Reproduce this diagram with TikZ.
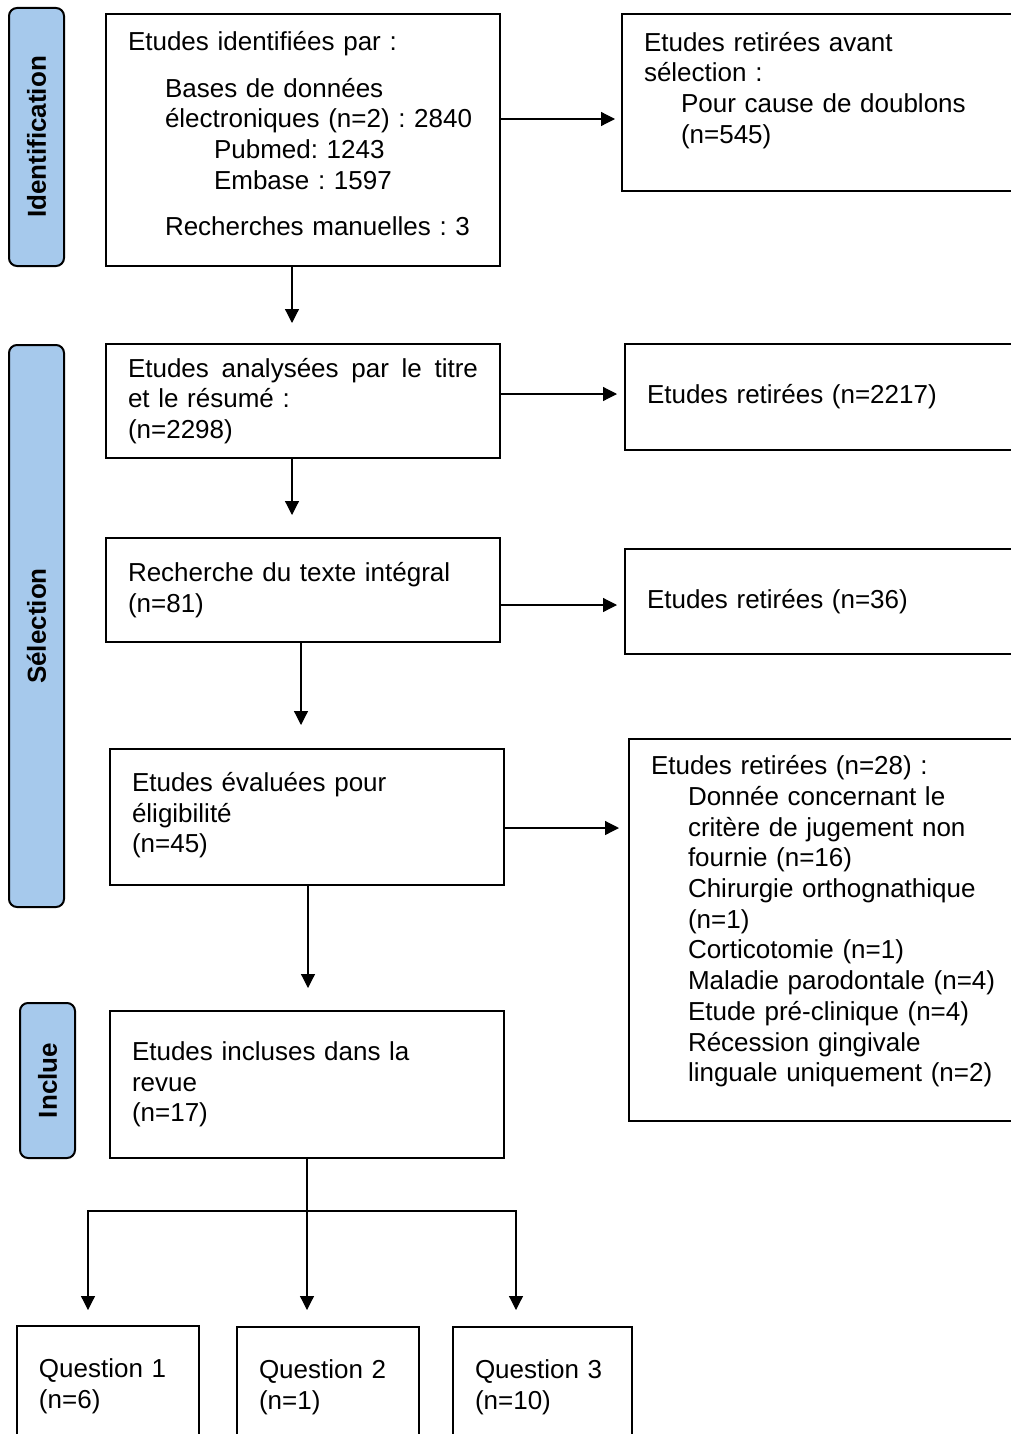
\documentclass[tikz,border=0pt]{standalone}
\usepackage{fontspec}
\setmainfont{Liberation Sans}
\usepackage{xcolor}
\usetikzlibrary{arrows.meta}
\definecolor{bleuphase}{RGB}{166,201,236}
\frenchspacing

\begin{document}
\begin{tikzpicture}[x=0.5pt, y=-0.5pt, font=\fontsize{13}{15.35}\selectfont]
    \tikzstyle{etape} = [rectangle, draw, line width=1pt, anchor=north west, align=left, inner xsep=11pt, inner ysep=2pt]
    \tikzstyle{phase} = [rectangle, rounded corners=4pt, draw, line width=1pt, fill=bleuphase, rotate=90, inner sep=0pt, minimum height=27.5pt, font=\fontsize{13}{15}\selectfont\bfseries]
    \tikzstyle{fleche} = [-{Triangle[length=7pt, width=7pt]}, line width=0.6pt]

    \useasboundingbox (0,0) rectangle (1011,1434);
    \clip (0,0) rectangle (1011,1434);

    % Phases
    \node [phase, minimum width=129pt] (identification) at (36.5,137) {Identification};
    \node [phase, minimum width=281pt] (selection) at (36.5,626) {Sélection};
    \node [phase, minimum width=77.5pt] (inclusion) at (47.5,1080.5) {Inclue};

    % Main column
    \node [etape, minimum width=197pt, minimum height=126pt, text width=175pt] (ident) at (105,13) {Etudes identifiées par :\\[8pt]
        \hspace*{18.5pt}Bases de données\\
        \hspace*{18.5pt}\mbox{électroniques (n=2) : 2840}\\
        \hspace*{43pt}Pubmed: 1243\\
        \hspace*{43pt}Embase : 1597\\[8pt]
        \hspace*{18.5pt}Recherches manuelles : 3\\[-9pt]\mbox{}};
    \node [etape, minimum width=197pt, minimum height=57pt, text width=175pt] (titre) at (105,343) {\makebox[175pt][s]{Etudes\hfill analysées\hfill par\hfill le\hfill titre}\\
        et le résumé :\\
        (n=2298)};
    \node [etape, minimum width=197pt, minimum height=52pt, text width=175pt] (integral) at (105,537) {Recherche du texte intégral\\
        (n=81)};
    \node [etape, minimum width=197pt, minimum height=68pt, text width=175pt] (eligible) at (109,748) {Etudes évaluées pour\\
        éligibilité\\
        (n=45)\\[-11pt]\mbox{}};
    \node [etape, minimum width=197pt, minimum height=73.5pt, text width=175pt] (inclus) at (109,1010) {Etudes incluses dans la\\
        revue\\
        (n=17)};

    % Excluded studies
    \node [etape, minimum width=204.5pt, minimum height=88.5pt, text width=182.5pt] (avant) at (621,13) {Etudes retirées avant\\
        sélection :\\
        \hspace*{18.5pt}Pour cause de doublons\\
        \hspace*{18.5pt}(n=545)\\[-0.5pt]\mbox{}};
    \node [etape, minimum width=203pt, minimum height=53pt, text width=181pt] (retrait2) at (624,343) {Etudes retirées (n=2217)};
    \node [etape, minimum width=203pt, minimum height=52.5pt, text width=181pt] (retrait3) at (624,548) {Etudes retirées (n=36)};
    \node [etape, minimum width=201pt, minimum height=191pt, text width=179pt] (retrait4) at (628,738) {Etudes retirées (n=28) :\\
        \hspace*{18.5pt}Donnée concernant le\\
        \hspace*{18.5pt}critère de jugement non\\
        \hspace*{18.5pt}fournie (n=16)\\
        \hspace*{18.5pt}Chirurgie orthognathique\\
        \hspace*{18.5pt}(n=1)\\
        \hspace*{18.5pt}Corticotomie (n=1)\\
        \hspace*{18.5pt}Maladie parodontale (n=4)\\
        \hspace*{18.5pt}Etude pré-clinique (n=4)\\
        \hspace*{18.5pt}Récession gingivale\\
        \hspace*{18.5pt}linguale uniquement (n=2)\\[-4pt]\mbox{}};

    % Questions
    \node [etape, minimum width=91pt, minimum height=60pt, text width=69pt] (q1) at (16,1325) {Question 1\\(n=6)};
    \node [etape, minimum width=91pt, minimum height=60pt, text width=69pt] (q2) at (236,1326) {Question 2\\(n=1)};
    \node [etape, minimum width=89.5pt, minimum height=60pt, text width=67.5pt] (q3) at (452,1326) {Question 3\\(n=10)};

    % Arrows to the right
    \coordinate (h1) at ([yshift=10.5pt]ident.east);
    \coordinate (h2) at ([yshift=3.5pt]titre.east);
    \coordinate (h3) at ([yshift=-7.5pt]integral.east);
    \coordinate (h4) at ([yshift=-5.5pt]eligible.east);
    \draw [fleche, shorten >=3pt] (h1) -- (h1 -| avant.west);
    \draw [fleche, shorten >=3.5pt] (h2) -- (h2 -| retrait2.west);
    \draw [fleche, shorten >=3.5pt] (h3) -- (h3 -| retrait3.west);
    \draw [fleche, shorten >=4.5pt] (h4) -- (h4 -| retrait4.west);

    % Arrows down
    \coordinate (d1) at ([xshift=-5.5pt]ident.south);
    \coordinate (d2) at ([xshift=-5.5pt]titre.south);
    \coordinate (d3) at ([xshift=-1pt]integral.south);
    \coordinate (d4) at ([xshift=0.5pt]eligible.south);
    \draw [fleche, shorten >=10pt] (d1) -- (d1 |- titre.north);
    \draw [fleche, shorten >=11pt] (d2) -- (d2 |- integral.north);
    \draw [fleche, shorten >=11.5pt] (d3) -- (d3 |- eligible.north);
    \draw [fleche, shorten >=11pt] (d4) -- (d4 |- inclus.north);

    % Branches to the questions
    \coordinate (branche) at ([yshift=-26pt]inclus.south);
    \draw [fleche, shorten >=8pt] (inclus.south) -- (inclus.south |- q2.north);
    \draw [fleche, shorten >=7.5pt] (branche) -| ([xshift=-10pt]q1.north);
    \draw [fleche, shorten >=8pt] (branche) -| ([xshift=-13.25pt]q3.north);
\end{tikzpicture}
\end{document}
